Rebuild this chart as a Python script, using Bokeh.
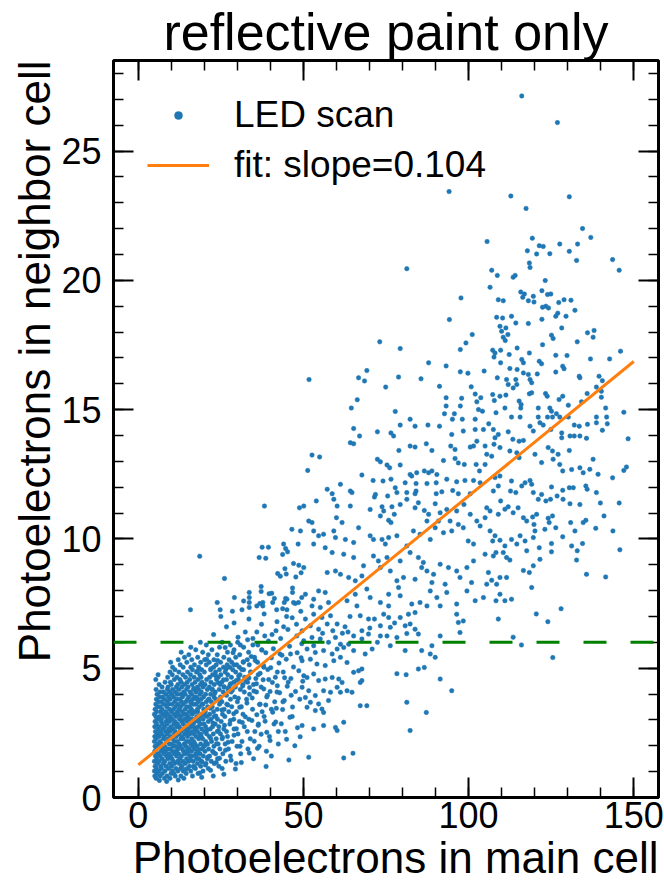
from bokeh.plotting import figure
from bokeh.models import (Range1d, SingleIntervalTicker, LinearAxis, Span, Legend,
                          LegendItem, Title, ColumnDataSource, CustomJSTickFormatter)
from bokeh.embed import file_html
from bokeh.resources import INLINE

FONT = "Liberation Sans"

# ---------------- data ----------------
# dense low-signal core, listed row by row: row y value and x values in that row
core_row_y = [0.74, 0.83, 0.93, 1.02, 1.12, 1.21, 1.31, 1.40, 1.50, 1.60, 1.69, 1.79, 1.88, 1.98,
              2.07, 2.17, 2.27, 2.36, 2.46, 2.55, 2.65, 2.74, 2.84, 2.94, 3.03, 3.13, 3.22, 3.32,
              3.41, 3.51, 3.61, 3.70, 3.80, 3.89, 3.99, 4.08, 4.18, 4.27, 4.37, 4.46, 4.56, 4.65,
              4.75, 4.85, 4.94, 5.04, 5.13, 5.23, 5.33, 5.42, 5.52, 5.62, 5.71, 5.81, 5.90, 6.00]
core_row_x = [
    [5.4, 7.9, 9.6, 13.8],
    [5.0, 6.6, 8.7, 11.2, 12.9, 16.4, 22.7],
    [5.7, 7.3, 9.9, 10.8, 14.5, 18.1],
    [4.9, 6.2, 8.1, 10.3, 12.0, 13.6, 15.9, 19.6],
    [5.5, 7.0, 9.2, 11.4, 12.8, 14.9, 17.3, 21.2],
    [5.1, 6.8, 8.4, 10.1, 13.2, 15.5, 16.8, 18.9, 24.4],
    [5.8, 7.6, 9.5, 11.0, 12.4, 14.2, 17.9, 20.5, 23.0, 29.6],
    [4.9, 6.3, 8.0, 10.6, 11.9, 13.5, 15.2, 16.6, 19.1, 22.1, 26.5],
    [5.6, 7.2, 9.0, 10.2, 12.6, 14.6, 17.6, 18.4, 20.9, 24.0, 34.9],
    [5.2, 6.6, 8.5, 9.8, 11.6, 13.1, 15.7, 16.3, 19.7, 21.6, 27.9],
    [6.0, 7.8, 9.3, 10.9, 12.2, 14.0, 15.0, 17.4, 18.7, 23.4, 25.6, 31.0],
    [5.0, 6.9, 8.2, 10.4, 11.5, 13.7, 14.8, 16.1, 18.0, 20.2, 22.5, 38.8],
    [5.5, 7.4, 8.9, 9.7, 12.0, 13.3, 15.4, 17.0, 19.4, 21.3, 24.7, 27.3, 33.2],
    [5.1, 6.4, 8.0, 10.7, 11.3, 12.7, 14.4, 16.5, 17.8, 19.9, 22.9, 29.9, 36.6],
    [5.9, 7.0, 9.4, 10.1, 12.4, 13.9, 15.9, 17.2, 18.9, 21.0, 24.2, 26.3, 42.4],
    [4.9, 6.6, 8.6, 11.0, 11.8, 14.6, 15.3, 16.8, 20.4, 22.2, 28.4, 31.4],
    [5.4, 7.6, 9.1, 10.4, 12.9, 13.6, 16.2, 18.3, 19.5, 23.6, 25.4, 33.9],
    [5.0, 6.3, 7.9, 9.8, 11.5, 13.2, 14.9, 17.5, 19.0, 21.5, 27.0, 39.7],
    [5.7, 7.1, 8.8, 10.9, 12.3, 14.1, 15.6, 16.9, 18.6, 20.7, 22.7, 24.9, 30.2],
    [5.2, 6.7, 8.3, 9.6, 11.2, 13.0, 14.6, 16.4, 17.9, 20.0, 23.9, 26.7, 35.3, 44.5],
    [6.0, 7.5, 9.2, 10.5, 12.7, 13.8, 15.2, 17.3, 19.2, 21.8, 25.9, 29.0],
    [5.0, 6.4, 8.0, 9.9, 11.6, 12.4, 14.3, 16.0, 18.1, 20.4, 22.5, 24.4, 32.1],
    [5.6, 7.3, 8.7, 10.8, 11.9, 13.6, 15.5, 16.7, 18.8, 19.9, 23.3, 27.7, 36.4, 41.1],
    [5.1, 6.9, 8.4, 9.5, 11.1, 13.2, 14.8, 17.1, 18.3, 21.2, 25.1, 30.6],
    [5.8, 7.0, 9.0, 10.3, 12.5, 14.0, 15.8, 16.5, 19.6, 22.0, 24.0, 28.9, 33.5],
    [5.3, 6.5, 8.1, 9.7, 11.4, 12.9, 15.1, 17.7, 18.6, 20.8, 23.0, 26.2, 38.1, 46.6],
    [4.9, 7.5, 8.9, 10.9, 12.1, 13.8, 14.5, 16.3, 19.3, 21.6, 25.5, 31.7],
    [5.6, 6.8, 8.3, 10.0, 11.8, 13.3, 15.4, 17.2, 18.0, 20.3, 22.8, 27.4, 29.7],
    [5.1, 7.2, 9.4, 10.6, 12.4, 14.2, 16.1, 17.9, 19.8, 23.9, 26.0, 34.6, 40.3],
    [5.9, 6.6, 8.6, 11.3, 12.8, 14.7, 15.6, 18.5, 21.0, 22.4, 28.3, 31.2],
    [5.3, 7.7, 9.1, 10.2, 12.0, 13.6, 16.7, 17.4, 19.4, 24.6, 26.8, 36.9],
    [6.1, 7.0, 8.8, 11.0, 13.1, 14.4, 15.9, 18.2, 20.6, 22.1, 25.3, 30.0, 43.8],
    [5.5, 8.0, 9.6, 11.6, 12.5, 14.9, 16.5, 17.8, 19.0, 21.4, 23.5, 27.9, 32.8],
    [6.4, 7.4, 9.2, 10.7, 13.4, 15.3, 17.1, 19.8, 22.9, 24.9, 29.2, 38.9],
    [5.7, 8.4, 10.1, 11.8, 12.9, 14.2, 16.2, 18.7, 20.4, 21.9, 26.4, 33.7],
    [6.6, 7.6, 9.5, 11.2, 13.7, 15.7, 17.5, 19.1, 23.3, 25.7, 28.1, 35.8, 42.0],
    [5.4, 8.8, 10.4, 12.3, 14.6, 16.8, 18.3, 20.9, 22.4, 24.5, 27.2, 30.9],
    [7.2, 9.0, 11.5, 13.2, 15.1, 17.9, 19.6, 21.5, 26.0, 29.4, 37.2],
    [6.3, 10.0, 12.0, 14.0, 16.3, 18.8, 20.2, 23.0, 24.8, 27.8, 31.7, 34.9],
    [8.1, 9.7, 13.0, 14.8, 17.2, 19.3, 22.0, 25.3, 28.9, 33.1, 45.4],
    [5.3, 10.9, 12.6, 15.6, 18.1, 20.7, 23.7, 26.7, 30.3, 39.5],
    [8.9, 11.7, 14.3, 16.9, 19.0, 21.6, 24.2, 28.2, 32.2],
    [6.0, 10.3, 13.5, 15.8, 18.6, 22.5, 25.0, 27.1, 30.8, 36.3],
    [9.6, 12.3, 14.9, 17.6, 20.0, 23.4, 26.3, 29.5, 34.0, 42.1],
    [11.1, 16.4, 19.2, 21.9, 24.6, 28.6, 31.9],
    [10.4, 13.6, 15.9, 18.3, 22.8, 25.8, 27.7, 30.6, 38.0],
    [12.7, 17.0, 20.6, 23.6, 26.9, 29.8, 33.6],
    [9.8, 14.7, 18.9, 21.5, 24.9, 28.3, 31.8, 36.1],
    [12.1, 16.2, 20.1, 22.9, 27.5, 33.0],
    [14.0, 18.0, 25.9, 29.5, 35.2],
    [15.3, 21.2, 23.9, 30.7],
    [13.0, 19.5, 27.0, 33.4],
    [17.4, 22.3, 29.0, 37.4],
    [15.9, 24.6, 31.9],
    [20.6, 27.9, 34.7],
    [18.8, 25.4, 30.1],
]

# extra points filling the right flank of the dense core
pts_core_extra = [
    (14.2, 1.08), (16.9, 1.17), (18.6, 0.95), (20.3, 1.26), (21.9, 1.05), (23.6, 1.35), (25.4, 1.12),
    (15.8, 1.45), (17.5, 1.62), (19.3, 1.38), (21.1, 1.57), (22.8, 1.74), (24.6, 1.52), (26.4, 1.83),
    (28.1, 1.44), (14.9, 1.92), (16.7, 2.11), (18.4, 1.86), (20.2, 2.03), (21.9, 2.29), (23.7, 2.08),
    (25.5, 2.33), (27.2, 2.14), (29.0, 2.41), (30.8, 1.98), (15.4, 2.5), (17.2, 2.69), (19.0, 2.43),
    (20.8, 2.61), (22.6, 2.88), (24.3, 2.57), (26.1, 2.79), (27.9, 2.98), (29.7, 2.66), (31.5, 2.9),
    (14.6, 3.05), (16.4, 3.27), (18.2, 3.01), (20.0, 3.19), (21.8, 3.45), (23.5, 3.15), (25.3, 3.38),
    (27.1, 3.58), (28.9, 3.24), (30.7, 3.49), (32.4, 3.12), (15.9, 3.66), (17.7, 3.88), (19.5, 3.61),
    (21.3, 3.79), (23.1, 4.02), (24.9, 3.72), (26.7, 3.95), (28.5, 4.15), (30.3, 3.84), (32.1, 4.08),
    (16.8, 4.22), (19.9, 4.35), (22.4, 4.18), (24.2, 4.44), (26.0, 4.28), (29.7, 4.52), (31.6, 4.31),
    (33.5, 4.62),
    (31.2, 1.35), (33.6, 1.72), (35.1, 2.18), (33.0, 2.55), (34.4, 2.98), (37.5, 3.32), (32.9, 3.65),
    (35.0, 4.12), (37.8, 4.55), (39.9, 4.1), (41.3, 3.7), (38.6, 3.58), (36.3, 2.79), (38.9, 2.52),
    (41.6, 2.92), (43.7, 3.4), (42.1, 4.32), (44.3, 4.63), (46.3, 3.95), (40.1, 5.02), (42.9, 5.55),
    (37.4, 5.7), (34.2, 5.45), (31.8, 5.25), (28.7, 5.6), (26.3, 5.8), (24.0, 5.3), (22.0, 4.98),
    (20.7, 5.35), (18.0, 4.9), (33.1, 6.1), (30.9, 5.9), (41.7, 6.45), (46.1, 5.55), (38.3, 6.25),
    (44.0, 6.6),
    (8.6, 0.62), (12.1, 0.68), (6.4, 0.66), (19.2, 0.78), (25.9, 0.9), (29.4, 1.1),
]

# points between 20 and 50 photoelectrons (main cell)
pts_low_mid = [
    (22.8, 6.3), (26.7, 6.6), (30.2, 6.2), (33.5, 6.9), (35.9, 6.4), (38.1, 7.1), (40.5, 6.3),
    (42.0, 6.8), (43.7, 7.3), (45.3, 6.5), (46.6, 6.95), (48.0, 6.25), (49.2, 7.2), (36.8, 7.5),
    (28.5, 7.2), (31.9, 7.6), (44.6, 7.7), (47.5, 7.5), (41.2, 7.7), (25.0, 7.0), (32.4, 6.4),
    (34.7, 6.15), (37.3, 6.7), (39.4, 6.05), (43.1, 6.15), (47.9, 6.7), (49.6, 6.45), (29.0, 6.75),
    (44.9, 7.0),
    (36.2, 5.9), (38.6, 5.6), (40.9, 5.75), (43.5, 5.5), (45.8, 5.85), (48.1, 5.6), (49.5, 5.95),
    (35.4, 5.3), (37.9, 5.1), (40.3, 5.4), (42.6, 5.2), (44.8, 5.35), (47.0, 5.05), (49.3, 5.4),
    (36.9, 4.8), (39.2, 4.95), (41.5, 4.65), (43.9, 4.85), (46.2, 4.6), (48.6, 4.9),
    (35.8, 4.4), (38.0, 4.2), (40.6, 4.45), (42.8, 4.05), (45.1, 4.3), (47.6, 4.1), (49.8, 4.5),
    (34.5, 3.85), (36.7, 3.6), (39.1, 3.95), (41.8, 3.45), (44.2, 3.75), (46.7, 3.5), (48.9, 3.8),
    (35.9, 3.2), (38.4, 2.95), (40.7, 3.3), (43.3, 2.85), (45.9, 3.1), (48.2, 2.7),
    (37.2, 2.45), (39.9, 2.2), (42.4, 2.55), (44.9, 2.25), (47.4, 2.0), (36.1, 1.9), (40.3, 1.6),
    (45.6, 1.45), (38.7, 1.2), (49.0, 2.35),
    (25.8, 4.55), (28.0, 4.4), (30.4, 4.7), (32.6, 4.5), (34.1, 4.85), (26.6, 4.97), (29.0, 5.12),
    (31.3, 4.95), (35.6, 4.6), (23.5, 4.7), (27.4, 4.25), (33.7, 4.25),
    (38.2, 11.27), (48.8, 11.2), (46.5, 10.37), (18.6, 9.33), (37.5, 9.68), (39.4, 9.68),
    (44.0, 9.8), (48.4, 9.8), (44.6, 9.63), (45.2, 9.5), (43.7, 9.4), (36.6, 9.28), (38.6, 9.25),
    (47.0, 9.05), (48.6, 8.98), (44.4, 8.85), (42.2, 8.66), (43.0, 8.56), (44.8, 8.64),
    (47.7, 8.53), (49.3, 8.69), (26.1, 8.47), (37.2, 8.16), (37.2, 7.97), (39.6, 7.88),
    (40.4, 7.9), (46.7, 8.1), (46.7, 7.93), (33.6, 7.93), (33.6, 7.73), (33.6, 7.54),
    (33.6, 7.35), (29.1, 7.73), (23.9, 7.54), (35.9, 7.41), (37.7, 7.54), (37.7, 7.41),
    (40.7, 7.54), (44.2, 7.54), (45.0, 7.67), (47.0, 7.54), (48.5, 7.54), (49.5, 7.73),
    (15.8, 7.26), (24.8, 7.26), (31.4, 7.26), (41.9, 7.26), (45.0, 7.26),
]

# points between 50 and 104 photoelectrons, low neighbour signal
pts_mid_low = [
    (50.6, 6.9), (53.1, 7.09), (55.6, 6.96), (58.2, 7.03), (52.1, 6.64), (54.6, 6.51), (57.2, 6.71),
    (60.2, 6.71), (67.2, 7.03), (69.7, 6.9), (74.3, 7.09), (75.8, 6.96), (79.3, 6.96), (81.8, 7.09),
    (83.8, 7.15), (82.3, 6.71), (80.8, 6.64), (83.8, 6.51), (84.8, 6.32), (81.3, 6.34), (96.4, 7.09),
    (96.9, 6.77), (98.4, 6.83), (97.4, 6.38), (65.2, 6.25), (67.7, 6.45), (69.7, 6.32), (67.7, 6.13),
    (73.3, 6.64), (76.3, 6.58), (75.3, 6.25), (78.3, 6.19), (73.3, 6.25), (50.1, 6.06), (52.6, 6.19),
    (55.1, 6.13), (57.6, 6.0), (59.7, 6.19), (61.2, 5.93), (62.2, 5.8), (63.7, 5.93), (65.2, 5.68),
    (51.1, 5.74), (53.6, 5.61), (56.1, 5.68), (58.7, 5.55), (60.2, 5.74), (53.1, 5.87), (68.7, 5.55),
    (70.8, 5.74), (76.3, 5.87), (80.8, 5.68), (85.8, 5.68), (88.4, 5.55), (89.9, 5.42), (91.4, 6.25),
    (88.9, 5.87), (49.6, 5.29), (52.1, 5.35), (54.1, 5.16), (56.6, 5.1), (59.2, 5.29), (61.2, 5.42),
    (63.2, 5.22), (65.2, 4.84), (66.7, 4.9), (67.7, 4.97), (67.2, 4.45), (67.7, 4.52), (50.1, 4.71),
    (51.1, 4.64), (53.1, 4.78), (54.6, 4.52), (56.6, 4.58), (58.7, 4.64), (60.7, 4.58), (61.7, 4.45),
    (60.2, 4.26), (49.6, 4.26), (51.6, 4.13), (53.6, 3.94), (56.1, 4.13), (58.2, 4.07), (61.2, 4.07),
    (63.2, 4.13), (64.7, 4.07), (50.6, 3.87), (52.1, 3.68), (54.6, 3.62), (55.6, 3.42), (57.6, 3.75),
    (56.1, 3.29), (53.6, 3.36), (51.1, 3.49), (67.2, 3.55), (69.2, 3.55), (62.2, 2.91), (59.7, 2.71),
    (60.2, 2.59), (49.6, 2.78), (53.1, 2.65), (56.1, 2.78), (51.6, 1.56), (62.2, 1.53), (65.0, 1.71),
    (78.3, 4.79), (81.1, 4.75), (84.8, 4.97), (86.6, 5.03), (91.4, 4.58), (94.9, 4.13), (81.3, 3.68),
    (87.2, 3.29), (82.3, 2.59),
    (58.9, 6.45), (62.6, 6.6), (64.1, 7.0), (61.8, 6.35), (55.8, 6.35), (63.5, 6.4),
    (71.5, 6.9), (72.4, 6.0), (77.6, 6.75), (70.1, 6.55),
]

# points between 50 and 104 photoelectrons, 7.3 to 14.5 in neighbour
pts_mid = [
    (65.2, 14.27), (67.0, 13.98), (72.4, 14.14), (76.5, 14.1), (77.3, 13.98), (79.3, 14.4), (83.8, 14.36),
    (87.7, 14.4), (91.2, 14.36), (94.9, 14.04), (98.4, 14.17), (102.0, 14.23), (102.5, 13.78),
    (101.5, 13.59), (64.2, 13.72), (65.2, 13.68), (78.9, 13.42), (82.3, 13.59), (83.8, 13.55),
    (87.2, 13.68), (88.9, 13.42), (94.6, 13.59), (95.9, 13.46), (100.5, 13.55), (52.6, 13.24),
    (54.9, 13.17), (51.3, 12.65), (67.7, 12.47), (72.4, 13.08), (73.3, 12.98), (75.3, 12.86),
    (76.1, 12.75), (79.3, 12.86), (82.3, 12.49), (82.8, 12.43), (84.3, 12.56), (86.6, 12.63),
    (87.9, 12.56), (88.9, 12.63), (90.4, 12.49), (92.4, 13.03), (95.9, 13.11), (96.9, 12.94),
    (98.7, 12.88), (102.3, 12.88), (103.3, 12.63), (71.1, 12.26), (74.1, 12.24), (76.5, 12.31),
    (80.8, 12.17), (84.1, 12.14), (87.4, 12.14), (90.2, 12.17), (93.4, 12.31), (96.4, 12.21),
    (98.9, 12.26), (101.5, 12.26), (61.2, 12.11), (57.2, 11.92), (58.7, 11.75), (64.2, 11.85),
    (64.7, 11.79), (53.9, 11.47), (71.8, 11.72), (71.5, 11.62), (75.5, 11.66), (77.8, 11.98),
    (78.3, 11.79), (81.3, 11.79), (84.1, 11.85), (83.8, 11.75), (90.2, 11.75), (91.9, 11.82),
    (95.2, 11.87), (96.9, 11.75), (100.5, 11.75), (50.1, 11.27), (51.6, 10.69), (52.6, 10.63),
    (59.2, 11.53), (60.2, 11.27), (64.2, 11.27), (60.0, 10.82), (61.7, 10.63), (59.2, 10.31),
    (70.2, 11.14), (73.8, 11.24), (76.8, 11.24), (74.3, 11.08), (73.3, 10.89), (75.8, 10.72),
    (76.5, 10.63), (77.5, 10.95), (79.3, 11.33), (81.3, 11.53), (83.8, 11.2), (84.8, 11.4),
    (86.6, 11.1), (87.9, 10.95), (87.4, 10.69), (89.9, 11.36), (91.4, 11.01), (93.4, 11.14),
    (96.4, 11.08), (98.6, 11.33), (100.5, 10.95), (102.5, 10.69), (90.9, 10.69), (94.4, 10.69),
    (96.9, 10.56), (49.1, 10.31), (53.1, 10.31), (54.6, 10.12), (56.1, 10.18), (53.1, 9.8),
    (56.6, 9.66), (59.7, 10.05), (62.7, 9.98), (65.2, 9.86), (66.7, 10.43), (70.2, 10.12),
    (71.2, 9.98), (73.8, 9.98), (75.8, 10.05), (74.8, 9.8), (78.3, 10.12), (81.3, 9.73),
    (83.3, 10.31), (85.3, 10.18), (88.4, 9.98), (89.9, 10.43), (92.4, 10.24), (94.9, 10.31),
    (98.4, 10.43), (99.9, 9.92), (101.5, 9.8), (50.1, 8.89), (58.7, 9.47), (62.2, 9.41),
    (65.2, 9.28), (68.2, 8.96), (71.2, 9.34), (72.7, 9.15), (75.3, 9.28), (57.2, 8.7), (59.7, 8.76),
    (61.2, 8.63), (63.7, 8.51), (65.7, 8.38), (67.7, 8.57), (73.3, 8.89), (76.3, 8.76), (79.3, 9.15),
    (82.3, 9.47), (84.8, 9.28), (86.3, 9.09), (85.8, 8.89), (87.4, 8.76), (89.4, 8.63), (91.4, 9.02),
    (93.9, 8.89), (96.4, 8.76), (99.5, 8.89), (101.5, 9.15), (78.3, 8.38), (80.3, 8.51), (83.8, 8.44),
    (88.9, 8.31), (92.9, 8.25), (97.4, 8.51), (100.9, 8.31), (50.6, 7.86), (53.1, 7.67), (54.6, 7.99),
    (56.6, 7.93), (52.6, 7.41), (55.1, 7.35), (57.6, 7.54), (63.2, 7.61), (65.7, 7.86), (69.2, 8.06),
    (70.2, 7.73), (73.3, 7.54), (75.8, 7.86), (78.8, 8.12), (79.3, 7.8), (82.8, 7.48), (85.3, 7.54),
    (88.4, 7.99), (90.4, 7.73), (93.4, 7.93), (96.4, 7.48), (99.5, 7.99), (102.0, 7.61), (66.2, 7.41),
    (75.8, 7.41), (87.4, 7.41), (91.4, 7.41),
]

# points between 50 and 104 photoelectrons, above 14.5 in neighbour
pts_mid_high = [
    (81.3, 20.45), (97.7, 19.32), (94.2, 18.48), (101.1, 17.9), (99.2, 17.58), (97.5, 17.32),
    (73.1, 17.62), (79.3, 17.36), (87.9, 16.81), (93.2, 16.69), (69.2, 16.51), (66.7, 16.23),
    (68.5, 16.11), (51.7, 16.16), (78.8, 16.26), (85.6, 16.19), (97.5, 16.46), (99.8, 16.41),
    (74.9, 15.87), (91.2, 15.9), (100.8, 15.88), (93.2, 15.46), (97.9, 15.44), (93.2, 15.14),
    (97.5, 15.14), (66.3, 15.38), (64.5, 15.06), (77.8, 14.93), (92.7, 14.84), (95.7, 14.84),
    (102.0, 15.6), (102.5, 15.3), (103.0, 15.0), (82.3, 14.63), (95.1, 14.63), (98.1, 14.63),
    (102.0, 14.63), (94.1, 23.43),
]

# points above 104 photoelectrons, neighbour above 14.5
pts_high_top = [
    (116.1, 27.13), (126.9, 26.1), (112.8, 23.26), (130.5, 23.23), (117.4, 22.78), (134.5, 22.0),
    (105.6, 21.5), (119.3, 21.63), (137.0, 21.66), (121.4, 21.34), (122.6, 21.31), (127.6, 21.4),
    (133.0, 21.4), (117.8, 21.14), (120.6, 21.02), (124.6, 21.03), (130.5, 21.12), (132.7, 20.77),
    (143.6, 20.8), (118.4, 20.67), (118.6, 20.5), (107.0, 20.39), (108.7, 20.19), (113.5, 20.12),
    (114.1, 20.19), (145.6, 20.39), (123.2, 19.99), (106.5, 19.73), (115.8, 19.55), (116.9, 19.47),
    (116.4, 19.34), (122.2, 19.6), (123.9, 19.45), (124.9, 19.47), (119.6, 19.38), (109.0, 19.25),
    (110.5, 19.21), (118.1, 19.21), (119.8, 19.16), (128.9, 19.25), (131.0, 19.23), (127.3, 19.14),
    (122.4, 18.96), (123.4, 19.0), (124.2, 18.93), (132.2, 18.84), (127.0, 18.73), (126.4, 18.61),
    (108.5, 18.57), (110.3, 18.54), (113.0, 18.61), (114.3, 18.35), (118.1, 18.33), (122.2, 18.49),
    (129.5, 18.61), (109.5, 18.22), (111.3, 18.16), (110.0, 18.03), (128.2, 18.16), (110.5, 17.8),
    (111.1, 17.67), (111.9, 17.9), (125.1, 17.88), (125.6, 17.75), (132.9, 17.62), (136.0, 17.97),
    (138.0, 18.06), (137.7, 17.8), (122.4, 17.51), (114.7, 17.38), (107.3, 17.3), (108.0, 17.19),
    (107.7, 17.03), (109.7, 17.3), (112.3, 17.13), (118.4, 17.19), (126.4, 17.1), (129.8, 17.09),
    (146.0, 17.26), (116.1, 16.94), (116.6, 16.81), (121.4, 16.87), (122.1, 16.77), (136.9, 16.96),
    (142.7, 16.96), (104.7, 16.49), (109.7, 16.81), (128.5, 16.68), (128.9, 16.58), (112.5, 16.59),
    (114.7, 16.55), (116.6, 16.42), (118.1, 16.36), (126.4, 16.45), (108.7, 16.23), (111.5, 16.16),
    (114.3, 16.16), (118.6, 16.16), (119.1, 16.04), (120.8, 16.38), (133.5, 16.29), (133.7, 16.23),
    (139.5, 16.29), (140.5, 16.12), (112.0, 15.97), (114.6, 15.97), (113.5, 15.84), (138.7, 15.87),
    (140.2, 15.71), (107.3, 15.58), (109.5, 15.52), (111.3, 15.56), (118.4, 15.61), (119.1, 15.65),
    (123.3, 15.62), (123.8, 15.52), (128.5, 15.52), (127.4, 15.39), (135.9, 15.62), (140.2, 15.48),
    (103.7, 15.46), (107.8, 15.35), (115.3, 15.33), (115.9, 15.2), (111.0, 15.06), (115.8, 15.06),
    (121.1, 15.06), (124.6, 15.06), (125.1, 14.94), (126.6, 14.84), (130.2, 15.17), (134.2, 15.3),
    (141.5, 15.06), (147.0, 14.9), (104.2, 14.94), (108.3, 14.88), (113.0, 14.71), (115.6, 14.71),
    (121.1, 14.71), (123.9, 14.71), (125.4, 14.71), (127.6, 14.71), (130.2, 14.71), (138.7, 14.71),
    (141.8, 14.71),
]

# points above 104 photoelectrons, neighbour below 14.5
pts_high_low = [
    (106.1, 14.45), (107.5, 14.23), (108.0, 13.91), (107.7, 13.66), (109.0, 14.04), (109.5, 13.53),
    (104.5, 14.23), (105.0, 13.59), (112.0, 14.14), (113.4, 13.85), (115.3, 13.78), (116.6, 13.81),
    (118.6, 14.36), (119.6, 14.17), (121.6, 14.49), (122.6, 14.4), (124.9, 14.23), (128.2, 14.1),
    (128.2, 13.91), (130.7, 13.98), (132.0, 14.4), (133.5, 14.36), (132.0, 13.98), (133.7, 13.98),
    (135.7, 13.89), (136.0, 14.43), (138.7, 14.49), (142.0, 14.45), (140.5, 14.2), (148.3, 13.87),
    (105.5, 13.27), (107.0, 13.2), (105.0, 12.88), (112.5, 13.4), (114.6, 13.33), (115.3, 13.14),
    (120.1, 13.27), (122.1, 12.95), (124.1, 13.53), (125.4, 13.4), (127.1, 13.27), (125.6, 13.08),
    (127.6, 12.88), (128.5, 12.63), (130.5, 13.42), (131.2, 12.68), (133.7, 12.75), (134.7, 12.56),
    (136.7, 12.69), (139.2, 12.5), (137.7, 13.08), (143.6, 12.36), (147.0, 12.65), (147.8, 12.78),
    (103.5, 12.17), (108.0, 12.37), (109.5, 12.43), (109.0, 12.05), (107.5, 11.85), (113.0, 12.24),
    (112.7, 11.85), (114.3, 11.79), (116.1, 12.05), (117.1, 12.17), (118.6, 12.26), (119.1, 12.11),
    (119.6, 11.79), (122.1, 11.72), (121.1, 11.53), (123.4, 11.47), (124.8, 11.53), (125.1, 12.01),
    (126.8, 11.66), (128.5, 11.88), (128.6, 11.53), (130.5, 11.98), (131.7, 11.98), (130.7, 11.36),
    (133.7, 11.33), (135.5, 12.05), (135.9, 11.92), (138.7, 11.79), (139.9, 11.39), (141.0, 10.89),
    (145.6, 11.39), (105.5, 11.2), (106.5, 11.08), (105.0, 10.82), (109.7, 11.47), (111.0, 11.15),
    (109.0, 10.95), (112.0, 11.24), (113.5, 11.01), (115.0, 11.2), (116.6, 10.82), (117.6, 10.69),
    (119.4, 10.85), (120.6, 10.95), (119.8, 10.56), (123.1, 10.37), (124.4, 10.63), (125.4, 10.89),
    (124.1, 10.8), (126.4, 10.43), (130.9, 10.63), (128.5, 10.08), (132.2, 10.31), (134.7, 10.63),
    (135.5, 10.72), (138.5, 10.41), (143.7, 10.31), (131.2, 9.73), (134.5, 9.82), (132.9, 9.54),
    (125.1, 9.82), (125.1, 9.5), (145.8, 9.58), (103.5, 10.5), (106.5, 10.31), (108.0, 10.12),
    (107.3, 9.92), (109.5, 9.95), (111.0, 9.73), (110.5, 9.47), (113.0, 9.98), (114.6, 9.8),
    (115.6, 10.12), (117.1, 9.92), (117.6, 9.54), (119.6, 10.05), (120.1, 10.31), (121.6, 9.21),
    (121.4, 9.66), (105.0, 9.41), (107.5, 9.34), (108.3, 9.47), (111.5, 9.28), (112.5, 9.18),
    (135.7, 8.63), (141.5, 8.53), (132.7, 9.18), (106.0, 8.7), (109.5, 8.51), (111.5, 8.51),
    (108.5, 8.25), (105.5, 8.25), (107.0, 8.4), (116.6, 8.78), (118.4, 8.7), (119.6, 8.96),
    (119.1, 8.12), (104.5, 7.73), (108.3, 7.61), (111.0, 7.61), (113.0, 7.67), (109.5, 7.86),
    (125.5, 5.41), (113.5, 6.2), (116.0, 5.9), (120.5, 7.1), (124.0, 6.8), (109.0, 6.9), (128.0, 7.3),
]

fit_slope = 0.104
fit_intercept = 1.26
fit_x = [0, 150]
threshold = 6.0

# ---------------- assemble ----------------
xs, ys = [], []
for ry, row in zip(core_row_y, core_row_x):
    for vx in row:
        xs.append(vx)
        ys.append(ry)
for group in (pts_core_extra, pts_low_mid, pts_mid_low, pts_mid, pts_mid_high,
              pts_high_top, pts_high_low):
    for vx, vy in group:
        xs.append(vx)
        ys.append(vy)
src = ColumnDataSource(dict(x=xs, y=ys))
fit_y = [fit_intercept + fit_slope * v for v in fit_x]

p = figure(frame_width=545, frame_height=737,
           x_range=Range1d(-7.5, 157.5), y_range=Range1d(0, 28.5),
           output_backend="svg", toolbar_location=None,
           min_border_left=113, min_border_right=6, min_border_top=60, min_border_bottom=10)
p.background_fill_color = "white"
p.border_fill_color = "white"
p.xgrid.visible = False
p.ygrid.visible = False
p.outline_line_color = "black"
p.outline_line_width = 3

p.title.text = "reflective paint only"
p.title.align = "center"
p.title.text_font = FONT
p.title.text_font_size = "52px"
p.title.text_font_style = "normal"
p.title.text_color = "black"
p.title.standoff = 0


def style_axis(ax, labels=True):
    ax.axis_line_color = None
    ax.major_tick_in = 20
    ax.major_tick_out = 0
    ax.minor_tick_in = 10
    ax.minor_tick_out = 0
    ax.major_tick_line_width = 2
    ax.minor_tick_line_width = 1.5
    ax.major_tick_line_color = "black"
    ax.minor_tick_line_color = "black"
    if labels:
        ax.major_label_text_font = FONT
        ax.major_label_text_font_size = "36px"
        ax.major_label_text_color = "black"
    else:
        ax.formatter = CustomJSTickFormatter(code="return ''")
        ax.major_label_text_font_size = "1px"
        ax.major_label_standoff = 0


p.xaxis.ticker = SingleIntervalTicker(interval=50, num_minor_ticks=5)
p.yaxis.ticker = SingleIntervalTicker(interval=5, num_minor_ticks=5)
style_axis(p.xaxis[0])
style_axis(p.yaxis[0])
p.xaxis[0].major_label_standoff = 4
p.yaxis[0].major_label_standoff = 12

top_ax = LinearAxis(ticker=SingleIntervalTicker(interval=50, num_minor_ticks=5))
right_ax = LinearAxis(ticker=SingleIntervalTicker(interval=5, num_minor_ticks=5))
style_axis(top_ax, labels=False)
style_axis(right_ax, labels=False)
p.add_layout(top_ax, "above")
p.add_layout(right_ax, "right")

p.add_layout(Title(text="Photoelectrons in neighbor cell", align="right", text_font=FONT,
                   text_font_size="44px", text_font_style="normal", text_color="black",
                   standoff=0), "left")
p.add_layout(Title(text="Photoelectrons in main cell", align="right", text_font=FONT,
                   text_font_size="44px", text_font_style="normal", text_color="black",
                   standoff=0), "below")

sc = p.scatter("x", "y", source=src, size=4.5, fill_color="#1f77b4", line_color="#1f77b4",
               line_width=0.5)
ln = p.line(fit_x, fit_y, line_color="#ff7f0e", line_width=3)
p.add_layout(Span(location=threshold, dimension="width", line_color="#008000",
                  line_width=3, line_dash="23 24"))

leg = Legend(items=[LegendItem(label="LED scan", renderers=[sc]),
                    LegendItem(label="fit: slope=0.104", renderers=[ln])],
             location="top_left", margin=0, padding=34, spacing=8,
             glyph_width=62, glyph_height=20, label_standoff=25,
             label_text_font=FONT, label_text_font_size="37px", label_text_color="black",
             background_fill_alpha=0, border_line_alpha=0)
p.add_layout(leg)

open("out.html", "w").write(file_html(p, INLINE))
